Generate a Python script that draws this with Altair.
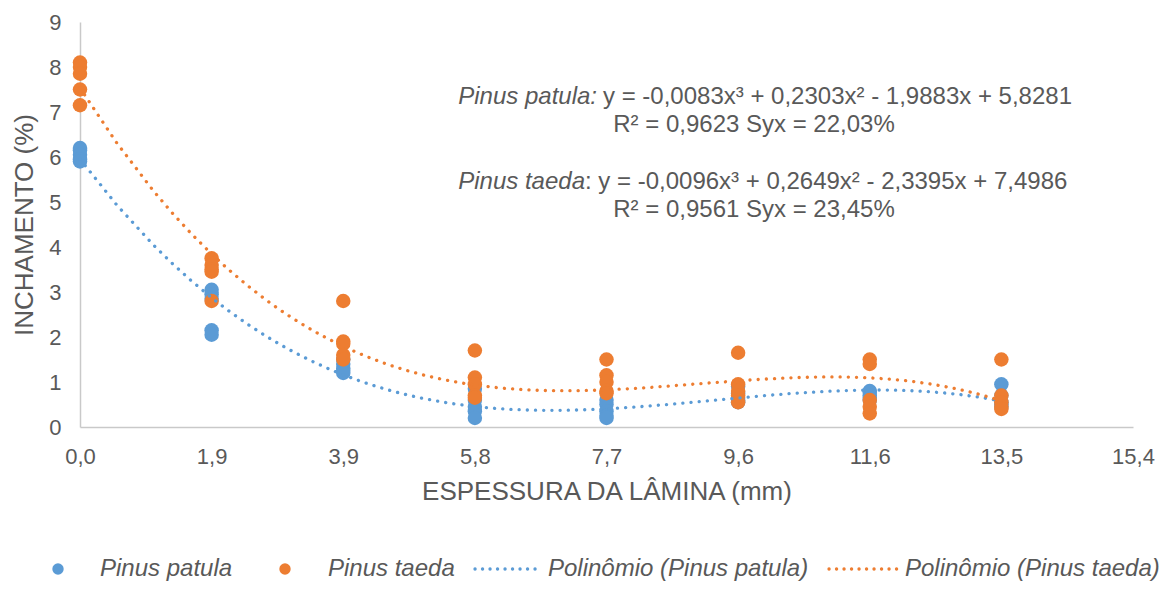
import altair as alt
import pandas as pd

# ---------------- data ----------------
thickness = [0.0, 1.925, 3.85, 5.775, 7.7, 9.625, 11.55, 13.475]

patula = [
    [6.2, 6.15, 6.05, 5.95, 5.9],
    [3.05, 2.95, 2.85, 2.15, 2.05],
    [1.5, 1.4, 1.3, 1.25, 1.2],
    [0.85, 0.6, 0.45, 0.35, 0.2],
    [0.6, 0.5, 0.35, 0.25, 0.2],
    [0.9, 0.75, 0.65, 0.6, 0.55],
    [0.8, 0.78, 0.7, 0.65, 0.6],
    [0.95, 0.7, 0.55, 0.5, 0.45],
]

taeda = [
    [8.1, 8.0, 7.85, 7.5, 7.15],
    [3.75, 3.6, 3.5, 3.45, 2.8],
    [2.8, 1.9, 1.85, 1.6, 1.5],
    [1.7, 1.1, 0.95, 0.7, 0.65],
    [1.5, 1.15, 1.0, 0.8, 0.75],
    [1.65, 0.95, 0.8, 0.7, 0.55],
    [1.5, 1.4, 0.6, 0.45, 0.3],
    [1.5, 0.7, 0.55, 0.45, 0.4],
]

series_names = ["Pinus patula", "Pinus taeda"]
x_ticks = [0.0, 1.925, 3.85, 5.775, 7.7, 9.625, 11.55, 13.475, 15.4]
y_ticks = [0, 1, 2, 3, 4, 5, 6, 7, 8, 9]

eq_patula = "y = -0,0083x³ + 0,2303x² - 1,9883x + 5,8281"
r2_patula = "R² = 0,9623 Syx = 22,03%"
eq_taeda = ": y = -0,0096x³ + 0,2649x² - 2,3395x + 7,4986"
r2_taeda = "R² = 0,9561 Syx = 23,45%"
legend_labels = ["Pinus patula", "Pinus taeda",
                 "Polinômio (Pinus patula)", "Polinômio (Pinus taeda)"]

# ---------------- build table ----------------
rows = []
for name, groups in zip(series_names, [patula, taeda]):
    for xv, vals in zip(thickness, groups):
        for v in vals:
            rows.append({"x": xv, "y": v, "species": name})
df = pd.DataFrame(rows)

BLUE = "#5B9BD5"
ORANGE = "#ED7D31"
TEXT = "#595959"
FONT = "Liberation Sans"
AXIS = "#C9C9C9"

xscale = alt.Scale(domain=[0, 15.4], nice=False, zero=False)
yscale = alt.Scale(domain=[0, 9], nice=False)
cscale = alt.Scale(domain=series_names, range=[BLUE, ORANGE])

x_axis = alt.Axis(values=x_ticks,
                  labelExpr="replace(format(datum.value, '.1f'), '.', ',')",
                  title="ESPESSURA DA LÂMINA (mm)", grid=False, ticks=False,
                  tickSize=0, labelPadding=19, titlePadding=11, labelFlush=False,
                  domainColor=AXIS, domainWidth=1.5)
y_axis = alt.Axis(values=y_ticks, format="d", title="INCHAMENTO (%)",
                  grid=False, ticks=False, tickSize=0, labelPadding=19,
                  titlePadding=11, labelFlush=False,
                  domainColor=AXIS, domainWidth=1.5)

base = alt.Chart(df)

points = base.mark_circle(size=210, opacity=1).encode(
    x=alt.X("x:Q", scale=xscale, axis=x_axis),
    y=alt.Y("y:Q", scale=yscale, axis=y_axis),
    color=alt.Color("species:N", scale=cscale, legend=None),
)

trend = base.transform_regression(
    "x", "y", method="poly", order=3, groupby=["species"]
).mark_line(strokeWidth=3.3, strokeDash=[0.1, 8.1], strokeCap="round").encode(
    x=alt.X("x:Q", scale=xscale),
    y=alt.Y("y:Q", scale=yscale),
    color=alt.Color("species:N", scale=cscale, legend=None),
)

one = alt.Chart(pd.DataFrame({"k": [0]}))


def txt(s, x, y, align, style="normal", size=24):
    return one.mark_text(text=s, align=align, baseline="middle", font=FONT,
                         fontSize=size, fontStyle=style, color=TEXT).encode(
        x=alt.value(x), y=alt.value(y))


annots = [
    txt("Pinus patula:", 517, 75, "right", "italic"),
    txt(eq_patula, 523, 75, "left"),
    txt(r2_patula, 674, 103, "center"),
    txt("Pinus taeda", 505, 160, "right", "italic"),
    txt(eq_taeda, 505, 160, "left"),
    txt(r2_taeda, 674, 188, "center"),
]

LY = 547
leg = [
    one.mark_circle(size=130, opacity=1, color=BLUE).encode(x=alt.value(-22), y=alt.value(LY)),
    txt(legend_labels[0], 20, LY, "left", "italic"),
    one.mark_circle(size=130, opacity=1, color=ORANGE).encode(x=alt.value(205), y=alt.value(LY)),
    txt(legend_labels[1], 248, LY, "left", "italic"),
    one.mark_rule(strokeWidth=3.3, strokeDash=[0.1, 7.4], strokeCap="round", color=BLUE).encode(
        x=alt.value(395), x2=alt.value(461), y=alt.value(LY)),
    txt(legend_labels[2], 468, LY, "left", "italic"),
    one.mark_rule(strokeWidth=3.3, strokeDash=[0.1, 7.4], strokeCap="round", color=ORANGE).encode(
        x=alt.value(749), x2=alt.value(818), y=alt.value(LY)),
    txt(legend_labels[3], 825, LY, "left", "italic"),
]

chart = alt.layer(points, trend, *annots, *leg).properties(
    width=1053, height=405,
    autosize=alt.AutoSizeParams(type="none"),
    padding={"left": 72, "top": 14, "right": 33, "bottom": 154},
).configure_view(stroke=None).configure_axis(
    labelFont=FONT, labelFontSize=22, labelColor=TEXT,
    titleFont=FONT, titleFontSize=26, titleColor=TEXT, titleFontWeight="normal",
)

chart.save("out.html", embed_options={"renderer": "svg", "actions": False})
